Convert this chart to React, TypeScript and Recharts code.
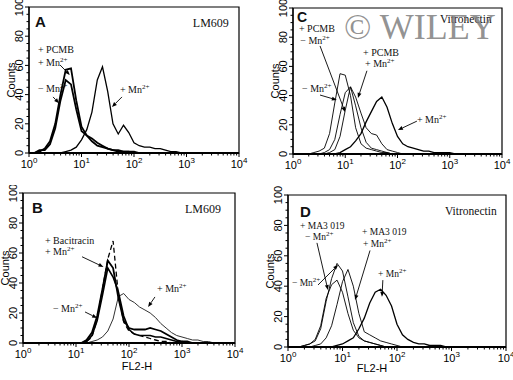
import React from 'react'
import { LineChart, Line, XAxis, YAxis, ReferenceArea, ReferenceLine, ReferenceDot } from 'recharts'

// FL2-H channel, one point every tenth of a decade
const FL2H = [
  1, 1.26, 1.58, 2, 2.51, 3.16, 3.98, 5.01, 6.31, 7.94,
  10, 12.6, 15.8, 20, 25.1, 31.6, 39.8, 50.1, 63.1, 79.4,
  100, 126, 158, 200, 251, 316, 398, 501, 631, 794,
  1000, 1259, 1585, 1995, 2512, 3162, 3981, 5012, 6310, 7943, 10000,
]

const X_TICKS = [
  1, 2, 3, 4, 5, 6, 7, 8, 9,
  10, 20, 30, 40, 50, 60, 70, 80, 90,
  100, 200, 300, 400, 500, 600, 700, 800, 900,
  1000, 2000, 3000, 4000, 5000, 6000, 7000, 8000, 9000, 10000,
]
const Y_TICKS = [0, 5, 10, 15, 20, 25, 30, 35, 40, 45, 50, 55, 60, 65, 70, 75, 80, 85, 90, 95, 100]

// A: LM609
const A_MINUS_MN = [0, 0, 2, 2, 6, 17, 36, 50, 47, 30, 15, 12, 10, 7, 5, 3, 2, 2, 1, 1, 1, 0, 0, 0, 0, 0, 0, 0, 0, 0, 0, 0, 0, 0, 0, 0, 0, 0, 0, 0, 0]
const A_PCMB_MN = [0, 0, 1, 3, 8, 20, 40, 57, 58, 36, 18, 12, 8, 5, 4, 3, 2, 1, 1, 1, 0, 0, 0, 0, 0, 0, 0, 0, 0, 0, 0, 0, 0, 0, 0, 0, 0, 0, 0, 0, 0]
const A_PLUS_MN = [0, 0, 0, 0, 0, 0, 0, 1, 2, 4, 9, 16, 28, 50, 59, 42, 20, 13, 19, 14, 7, 5, 4, 4, 3, 3, 2, 1, 1, 0, 0, 0, 0, 0, 0, 0, 0, 0, 0, 0, 0]

// B: LM609, bacitracin
const B_DASHED = [0, 0, 0, 0, 0, 0, 0, 0, 0, 0, 0, 0, 1, 4, 16, 36, 56, 68, 32, 14, 8, 6, 5, 4, 3, 2, 1, 1, 0, 0, 0, 0, 0, 0, 0, 0, 0, 0, 0, 0, 0]
const B_BACI_MN = [0, 0, 0, 0, 0, 0, 0, 0, 0, 0, 0, 0, 2, 7, 18, 36, 55, 50, 30, 15, 10, 9, 9, 9, 10, 9, 8, 6, 4, 2, 1, 1, 0, 0, 0, 0, 0, 0, 0, 0, 0]
const B_MINUS_MN = [0, 0, 0, 0, 0, 0, 0, 0, 0, 0, 0, 0, 1, 5, 15, 32, 50, 44, 34, 18, 9, 6, 5, 5, 5, 4, 4, 3, 2, 1, 1, 0, 0, 0, 0, 0, 0, 0, 0, 0, 0]
const B_PLUS_MN = [0, 0, 0, 0, 0, 0, 0, 0, 0, 0, 0, 0, 0, 1, 2, 4, 8, 16, 31, 33, 29, 27, 24, 22, 20, 17, 13, 10, 7, 5, 4, 3, 2, 2, 1, 1, 0, 0, 0, 0, 0]

// C: vitronectin, PCMB
const C_MINUS_MN = [0, 0, 0, 0, 1, 2, 4, 14, 35, 55, 54, 40, 18, 7, 4, 3, 2, 1, 1, 0, 0, 0, 0, 0, 0, 0, 0, 0, 0, 0, 0, 0, 0, 0, 0, 0, 0, 0, 0, 0, 0]
const C_PCMB_MINUS = [0, 0, 0, 0, 0, 0, 1, 3, 10, 27, 42, 46, 33, 18, 8, 4, 3, 2, 1, 0, 0, 0, 0, 0, 0, 0, 0, 0, 0, 0, 0, 0, 0, 0, 0, 0, 0, 0, 0, 0, 0]
const C_PCMB_PLUS = [0, 0, 0, 0, 0, 0, 0, 1, 3, 12, 30, 46, 39, 28, 18, 14, 13, 7, 3, 2, 1, 0, 0, 0, 0, 0, 0, 0, 0, 0, 0, 0, 0, 0, 0, 0, 0, 0, 0, 0, 0]
const C_PLUS_MN = [0, 0, 0, 0, 0, 0, 0, 0, 0, 1, 3, 5, 9, 14, 22, 29, 36, 39, 32, 21, 12, 7, 5, 4, 3, 2, 2, 1, 1, 1, 1, 0, 0, 0, 0, 0, 0, 0, 0, 0, 0]

// D: vitronectin, MA3 019
const D_MINUS_MN = [0, 0, 0, 1, 2, 4, 12, 30, 45, 55, 50, 33, 16, 7, 4, 3, 2, 1, 0, 0, 0, 0, 0, 0, 0, 0, 0, 0, 0, 0, 0, 0, 0, 0, 0, 0, 0, 0, 0, 0, 0]
const D_MA3_MINUS = [0, 0, 0, 1, 2, 5, 14, 32, 41, 44, 36, 22, 11, 6, 4, 3, 2, 1, 0, 0, 0, 0, 0, 0, 0, 0, 0, 0, 0, 0, 0, 0, 0, 0, 0, 0, 0, 0, 0, 0, 0]
const D_MA3_PLUS = [0, 0, 0, 0, 0, 1, 2, 6, 14, 28, 43, 51, 40, 22, 10, 8, 6, 4, 3, 2, 1, 0, 0, 0, 0, 0, 0, 0, 0, 0, 0, 0, 0, 0, 0, 0, 0, 0, 0, 0, 0]
const D_PLUS_MN = [0, 0, 0, 0, 0, 0, 0, 0, 0, 1, 2, 4, 6, 12, 19, 29, 36, 38, 34, 27, 15, 8, 5, 3, 2, 2, 1, 1, 1, 0, 0, 0, 0, 0, 0, 0, 0, 0, 0, 0, 0]

type Series = { key: string; counts: number[]; width: number; dash?: string; color?: string }
type Note = { x: number; y: number; text: string; sup?: string; size?: number; letter?: boolean }
type Arrow = { x1: number; y1: number; x2: number; y2: number }

const A_NOTES: Note[] = [
  { x: 1.3, y: 86, text: 'A', size: 15, letter: true },
  { x: 1320, y: 86, text: 'LM609', size: 12 },
  { x: 1.48, y: 68.5, text: '+ PCMB' },
  { x: 1.48, y: 59.6, text: '+ Mn', sup: '2+' },
  { x: 1.48, y: 41.8, text: '− Mn', sup: '2+' },
  { x: 54, y: 41, text: '+ Mn', sup: '2+' },
]
const A_ARROWS: Arrow[] = [
  { x1: 3.9, y1: 60.3, x2: 6, y2: 53.4 },
  { x1: 2.87, y1: 38.4, x2: 3.73, y2: 34 },
  { x1: 59, y1: 38.4, x2: 38, y2: 31.5 },
]

const B_NOTES: Note[] = [
  { x: 1.48, y: 86.7, text: 'B', size: 15, letter: true },
  { x: 1140, y: 87, text: 'LM609', size: 12 },
  { x: 2.6, y: 66, text: '+ Bacitracin' },
  { x: 2.6, y: 58.7, text: '+ Mn', sup: '2+' },
  { x: 3.68, y: 20.7, text: '− Mn', sup: '2+' },
  { x: 338, y: 34, text: '+ Mn', sup: '2+' },
]
const B_ARROWS: Arrow[] = [
  { x1: 13, y1: 57.5, x2: 33, y2: 50.7 },
  { x1: 14.8, y1: 20.7, x2: 25, y2: 16.7 },
  { x1: 309, y1: 30.7, x2: 229, y2: 24 },
]

const C_NOTES: Note[] = [
  { x: 1.19, y: 90.5, text: 'C', size: 14, letter: true },
  { x: 650, y: 90, text: 'Vitronectin', size: 11.5 },
  { x: 1.3, y: 83.5, text: '+ PCMB' },
  { x: 1.38, y: 75.5, text: '− Mn', sup: '2+' },
  { x: 21.9, y: 67, text: '+ PCMB' },
  { x: 23.9, y: 59.6, text: '+ Mn', sup: '2+' },
  { x: 1.49, y: 42.5, text: '− Mn', sup: '2+' },
  { x: 235, y: 21, text: '+ Mn', sup: '2+' },
]
const C_ARROWS: Arrow[] = [
  { x1: 3.29, y1: 74, x2: 9.9, y2: 28.8 },
  { x1: 26, y1: 57, x2: 17.5, y2: 38.4 },
  { x1: 3.29, y1: 40.4, x2: 6.9, y2: 37 },
  { x1: 235, y1: 22.5, x2: 102, y2: 16.4 },
]

const D_NOTES: Note[] = [
  { x: 1.66, y: 85.5, text: 'D', size: 15, letter: true },
  { x: 760, y: 86.8, text: 'Vitronectin', size: 11.5 },
  { x: 1.66, y: 77.5, text: '+ MA3 019', size: 9.5 },
  { x: 2.05, y: 70.5, text: '− Mn', sup: '2+', size: 9.5 },
  { x: 22.8, y: 73.5, text: '+ MA3 019', size: 9.5 },
  { x: 23.8, y: 66, text: '+ Mn', sup: '2+', size: 9.5 },
  { x: 44.8, y: 46, text: '+ Mn', sup: '2+', size: 9.5 },
  { x: 1.18, y: 40, text: '− Mn', sup: '2+', size: 9.5 },
]
const D_ARROWS: Arrow[] = [
  { x1: 3.4, y1: 68.5, x2: 5.4, y2: 37.5 },
  { x1: 3.55, y1: 40.8, x2: 8.3, y2: 54 },
  { x1: 32, y1: 63.5, x2: 17, y2: 31 },
  { x1: 55, y1: 44, x2: 53, y2: 33 },
]

const SANS = 'Liberation Sans, Arial, sans-serif'
const SERIF = 'Liberation Serif, Times New Roman, serif'

function XTick(props: any) {
  const { x, y, payload } = props
  const v = payload.value
  const exp = Math.round(Math.log10(v))
  const major = Math.abs(Math.pow(10, exp) - v) < 1e-6
  return (
    <g>
      <line x1={x} x2={x} y1={y} y2={y + (major ? 4 : 2.5)} stroke="#000" strokeWidth={1} />
      {major && (
        <text x={x} y={y + 15} textAnchor="middle" fontFamily={SANS} fontSize={11} fill="#000">
          10<tspan dy={-5} fontSize={8}>{exp}</tspan>
        </text>
      )}
    </g>
  )
}

function YTick(props: any) {
  const { x, y, payload } = props
  const major = payload.value % 20 === 0
  return (
    <g>
      <line x1={x} x2={x - (major ? 4 : 2.5)} y1={y} y2={y} stroke="#000" strokeWidth={1} />
      {major && (
        <text transform={`translate(${x - 6},${y}) rotate(-90)`} textAnchor="middle"
          fontFamily={SANS} fontSize={11} fill="#000">
          {payload.value}
        </text>
      )}
    </g>
  )
}

function ArrowShape(props: any) {
  const { x1, y1, x2, y2 } = props
  const ang = Math.atan2(y2 - y1, x2 - x1)
  const bx = x2 - 5 * Math.cos(ang)
  const by = y2 - 5 * Math.sin(ang)
  const px = -Math.sin(ang) * 2
  const py = Math.cos(ang) * 2
  return (
    <g>
      <line x1={x1} y1={y1} x2={bx} y2={by} stroke="#000" strokeWidth={0.9} />
      <polygon points={`${x2},${y2} ${bx + px},${by + py} ${bx - px},${by - py}`} fill="#000" />
    </g>
  )
}

function NoteText({ cx, cy, note }: { cx: number; cy: number; note: Note }) {
  return (
    <text x={cx} y={cy} fill="#111"
      fontFamily={note.letter ? SANS : SERIF}
      fontWeight={note.letter ? 700 : 400}
      fontSize={note.size ?? 10}>
      {note.text}
      {note.sup && <tspan dy={-4} fontSize={7}>{note.sup}</tspan>}
    </text>
  )
}

interface PanelProps {
  left: number
  top: number
  width: number
  height: number
  margin: { top: number; right: number; bottom: number; left: number }
  series: Series[]
  notes: Note[]
  arrows: Arrow[]
  xTitle?: { dx: number; dy: number }
}

function Panel({ left, top, width, height, margin, series, notes, arrows, xTitle }: PanelProps) {
  const rows = FL2H.map((x, i) => {
    const r: Record<string, number> = { x }
    series.forEach(s => { r[s.key] = s.counts[i] })
    return r
  })

  // axes take 1px so recharts still draws them
  const m = { ...margin, left: margin.left - 1, bottom: margin.bottom - 1 }

  return (
    <div style={{ position: 'absolute', left, top }}>
      <LineChart width={width} height={height} data={rows} margin={m}>
        <XAxis
          dataKey="x"
          type="number"
          scale="log"
          domain={[1, 10000]}
          allowDataOverflow
          ticks={X_TICKS}
          interval={0}
          height={1}
          tickSize={0}
          tickMargin={0}
          tickLine={false}
          axisLine={{ stroke: '#000', strokeWidth: 2 }}
          tick={XTick}
          label={xTitle ? {
            content: (p: any) => {
              const vb = p.viewBox || {}
              return (
                <text x={vb.x + vb.width / 2 + xTitle.dx} y={vb.y + xTitle.dy} textAnchor="middle"
                  fontFamily={SANS} fontSize={11} fill="#000">FL2-H</text>
              )
            },
          } : undefined}
        />
        <YAxis
          type="number"
          domain={[0, 100]}
          allowDataOverflow
          ticks={Y_TICKS}
          interval={0}
          width={1}
          tickSize={0}
          tickMargin={0}
          tickLine={false}
          axisLine={{ stroke: '#000', strokeWidth: 1.2 }}
          tick={YTick}
          label={{
            content: (p: any) => {
              const vb = p.viewBox || {}
              return (
                <text transform={`translate(${vb.x - 13},${vb.y + vb.height / 2}) rotate(-90)`}
                  textAnchor="middle" fontFamily={SANS} fontSize={11} fill="#000">Counts</text>
              )
            },
          }}
        />
        <ReferenceArea x1={1} x2={10000} y1={0} y2={100} fill="none" stroke="#000" strokeWidth={1.2} ifOverflow="visible" />
        {series.map(s => (
          <Line
            key={s.key}
            dataKey={s.key}
            type="linear"
            stroke={s.color ?? '#000'}
            strokeWidth={s.width}
            strokeDasharray={s.dash}
            dot={false}
            isAnimationActive={false}
          />
        ))}
        {arrows.map((a, i) => (
          <ReferenceLine
            key={`arr${i}`}
            segment={[{ x: a.x1, y: a.y1 }, { x: a.x2, y: a.y2 }]}
            ifOverflow="visible"
            shape={ArrowShape}
          />
        ))}
        {notes.map((n, i) => (
          <ReferenceDot
            key={`note${i}`}
            x={n.x}
            y={n.y}
            r={0}
            ifOverflow="visible"
            shape={(p: any) => <NoteText cx={p.cx} cy={p.cy} note={n} />}
          />
        ))}
      </LineChart>
    </div>
  )
}

export default function App() {
  return (
    <div style={{ position: 'absolute', left: 0, top: 0, width: 513, height: 380, background: '#fff', overflow: 'hidden' }}>
      <Panel
        left={0} top={0} width={250} height={185}
        margin={{ top: 7, right: 11, bottom: 32, left: 29 }}
        series={[
          { key: 'minus', counts: A_MINUS_MN, width: 1.8 },
          { key: 'pcmb', counts: A_PCMB_MN, width: 1.8 },
          { key: 'plus', counts: A_PLUS_MN, width: 1.3 },
        ]}
        notes={A_NOTES}
        arrows={A_ARROWS}
      />
      <Panel
        left={0} top={185} width={250} height={195}
        margin={{ top: 8, right: 15, bottom: 37, left: 23 }}
        series={[
          { key: 'plus', counts: B_PLUS_MN, width: 1, color: '#333' },
          { key: 'dashed', counts: B_DASHED, width: 1.3, dash: '5 3' },
          { key: 'minus', counts: B_MINUS_MN, width: 1.6 },
          { key: 'baci', counts: B_BACI_MN, width: 1.8 },
        ]}
        notes={B_NOTES}
        arrows={B_ARROWS}
        xTitle={{ dx: 8, dy: 27 }}
      />
      <Panel
        left={260} top={0} width={253} height={185}
        margin={{ top: 8, right: 11, bottom: 31, left: 33 }}
        series={[
          { key: 'minus', counts: C_MINUS_MN, width: 0.9 },
          { key: 'pcmbMinus', counts: C_PCMB_MINUS, width: 0.9 },
          { key: 'pcmbPlus', counts: C_PCMB_PLUS, width: 0.9 },
          { key: 'plus', counts: C_PLUS_MN, width: 1.3 },
        ]}
        notes={C_NOTES}
        arrows={C_ARROWS}
      />
      <Panel
        left={260} top={185} width={253} height={195}
        margin={{ top: 10, right: 7, bottom: 33, left: 28 }}
        series={[
          { key: 'minus', counts: D_MINUS_MN, width: 0.9 },
          { key: 'ma3Minus', counts: D_MA3_MINUS, width: 0.9 },
          { key: 'ma3Plus', counts: D_MA3_PLUS, width: 0.9 },
          { key: 'plus', counts: D_PLUS_MN, width: 1.3 },
        ]}
        notes={D_NOTES}
        arrows={D_ARROWS}
        xTitle={{ dx: -25, dy: 25 }}
      />
      <svg width={513} height={380} style={{ position: 'absolute', left: 0, top: 0, pointerEvents: 'none' }}>
        <text x={344} y={39} fontFamily={SERIF} fontSize={36} fill="#7f7f7f" fillOpacity={0.85}>© WILEY</text>
      </svg>
    </div>
  )
}
